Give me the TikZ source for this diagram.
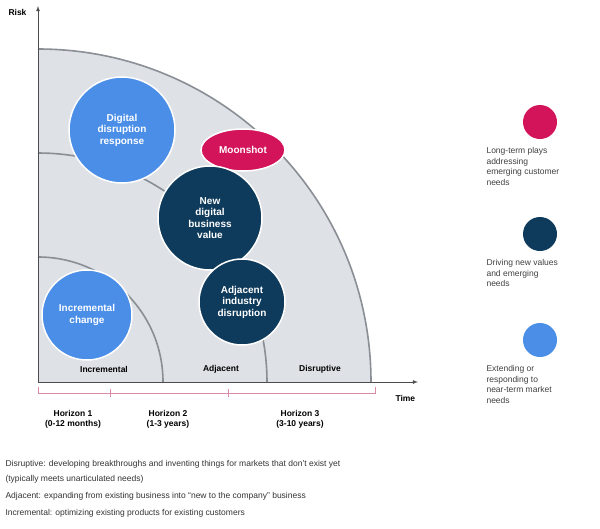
\documentclass[tikz,border=0pt]{standalone}
\usepackage{fontspec}
\usetikzlibrary{shapes.geometric}
\setmainfont{Liberation Sans}
\definecolor{pinkc}{HTML}{D4145A}
\definecolor{navyc}{HTML}{0E3A5B}
\definecolor{bluec}{HTML}{4A8EE8}
\definecolor{fillc}{HTML}{DEE1E6}
\definecolor{arcc}{HTML}{8A8F96}
\definecolor{brk}{HTML}{D98AA8}
\begin{document}
\begin{tikzpicture}[x=1pt,y=-1pt,
 bub/.style={circle,draw=white,line width=1.5pt,text=white,font=\bfseries\fontsize{10}{11.5}\selectfont,align=center,inner sep=0pt},
 lbl/.style={font=\bfseries\fontsize{8.5}{10}\selectfont},
 leg/.style={anchor=north west,align=left,font=\fontsize{8.5}{10.5}\selectfont,text=black!75},
 note/.style={anchor=west,font=\fontsize{8.5}{10}\selectfont,text=black!80}]
\useasboundingbox (0,0) rectangle (600,528);
\coordinate (O) at (38,382);
\fill[fillc] (O) -- (38,49) arc[start angle=-90,end angle=0,radius=333] -- cycle;
\draw[arcc,line width=1.6pt] (38,49) arc[start angle=-90,end angle=0,radius=333];
\draw[arcc,line width=1.6pt] (38,153) arc[start angle=-90,end angle=0,radius=229];
\draw[arcc,line width=1.6pt] (38,257) arc[start angle=-90,end angle=0,radius=125];
\coordinate (ytop) at (38,6);
\coordinate (xend) at (418,382);
\draw[black!70,line width=0.8pt,-latex] (O) -- (ytop);
\draw[black!70,line width=0.8pt,-latex] (O) -- (xend);
\node[lbl,anchor=east] (risk) at (30,12) {Risk};
\node[lbl,anchor=west] (time) at (392,398) {Time};
\node[lbl] (li) at (104,369) {Incremental};
\node[lbl] (la) at (221,369) {Adjacent};
\node[lbl] (ld) at (320,369) {Disruptive};
\draw[brk,line width=0.8pt] (38,387) -- (38,393) -- (375,393) -- (375,387);
\draw[brk,line width=0.8pt] (110,389) -- (110,397);
\draw[brk,line width=0.8pt] (228,389) -- (228,397);
\node[lbl,align=center] (h1) at (73,419) {Horizon 1\\(0-12 months)};
\node[lbl,align=center] (h2) at (168,419) {Horizon 2\\(1-3 years)};
\node[lbl,align=center] (h3) at (300,419) {Horizon 3\\(3-10 years)};
\node[bub,fill=bluec,minimum size=106pt] (ddr) at (122,130) {Digital\\disruption\\response};
\node[bub,fill=pinkc,ellipse,minimum width=84pt,minimum height=42pt] (moon) at (243,150) {Moonshot};
\node[bub,fill=navyc,minimum size=104pt] (ndbv) at (210,218) {New\\digital\\business\\value};
\node[bub,fill=navyc,minimum size=86pt] (aid) at (242,302) {Adjacent\\industry\\disruption};
\node[bub,fill=bluec,minimum size=90pt] (inc) at (87,315) {Incremental\\change};
\node[circle,fill=pinkc,minimum size=34pt] (c1) at (540,122) {};
\node[circle,fill=navyc,minimum size=34pt] (c2) at (540,234) {};
\node[circle,fill=bluec,minimum size=34pt] (c3) at (540,340) {};
\node[leg] (t1) at (483,144) {Long-term plays\\addressing\\emerging customer\\needs};
\node[leg] (t2) at (483,256) {Driving new values\\and emerging\\needs};
\node[leg] (t3) at (483,362) {Extending or\\responding to\\near-term market\\needs};
\node[note] (n1) at (2,464) {Disruptive: developing breakthroughs and inventing things for markets that don't exist yet};
\node[note] (n2) at (2,479) {(typically meets unarticulated needs)};
\node[note] (n3) at (2,496) {Adjacent: expanding from existing business into ``new to the company'' business};
\node[note] (n4) at (2,513) {Incremental: optimizing existing products for existing customers};
\end{tikzpicture}
\end{document}
